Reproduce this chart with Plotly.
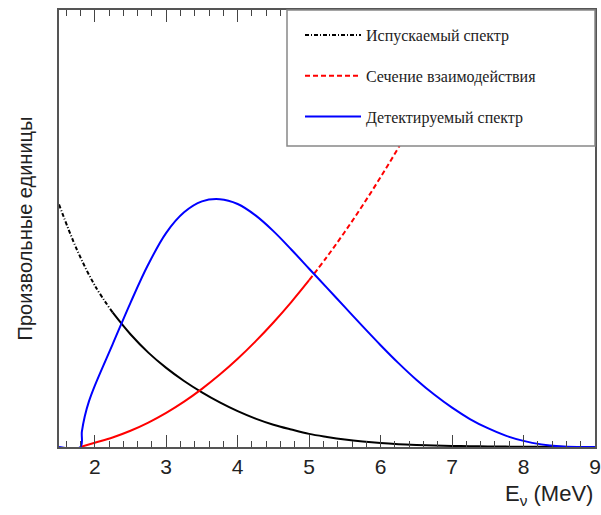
import plotly.graph_objects as go

# Emitted spectrum (arbitrary units)
emit_e = [1.5, 1.75, 2.0, 2.25, 2.5, 2.75, 3.0, 3.25, 3.5, 3.75, 4.0, 4.25, 4.5,
          4.75, 5.0, 5.25, 5.5, 5.75, 6.0, 6.25, 6.5, 6.75, 7.0, 7.25, 7.5,
          7.75, 8.0, 8.25, 8.5, 8.75, 9.0]
emitted = [0.555, 0.452, 0.370, 0.308, 0.258, 0.216, 0.181, 0.151, 0.125, 0.102,
           0.082, 0.065, 0.051, 0.040, 0.030, 0.023, 0.017, 0.0125, 0.009, 0.0065,
           0.0047, 0.0034, 0.0025, 0.0018, 0.0013, 0.0009, 0.0006, 0.0004,
           0.0003, 0.0002, 0.0001]

# Interaction cross section (arbitrary units)
cross_e = [1.8, 2.0, 2.25, 2.5, 2.75, 3.0, 3.25, 3.5, 3.75, 4.0, 4.25, 4.5, 4.75,
           5.0, 5.25, 5.5, 5.75, 6.0, 6.25, 6.5, 6.75, 7.0, 7.25, 7.5]
cross = [0.0, 0.0098, 0.0218, 0.0372, 0.0559, 0.0781, 0.1038, 0.1331, 0.1658,
         0.2019, 0.2417, 0.2849, 0.3316, 0.3817, 0.4354, 0.4926, 0.5533, 0.6175,
         0.6852, 0.7564, 0.8311, 0.9093, 0.991, 1.076]

# Detected spectrum (arbitrary units)
det_e = [1.5, 1.8, 1.82, 1.86, 1.92, 2.0, 2.25, 2.5, 2.75, 3.0, 3.25, 3.5, 3.75,
         4.0, 4.25, 4.5, 4.75, 5.0, 5.25, 5.5, 5.75, 6.0, 6.25, 6.5, 6.75, 7.0,
         7.25, 7.5, 7.75, 8.0, 8.25, 8.5, 8.75, 9.0]
detected = [0.0, 0.0, 0.035, 0.07, 0.105, 0.14, 0.235, 0.33, 0.418, 0.49, 0.537,
            0.562, 0.567, 0.556, 0.530, 0.494, 0.452, 0.408, 0.364, 0.320, 0.276,
            0.233, 0.192, 0.154, 0.120, 0.090, 0.064, 0.043, 0.026, 0.014, 0.006,
            0.0015, 0.0, 0.0]

x_ticks = [2, 3, 4, 5, 6, 7, 8, 9]

names = ["Испускаемый спектр", "Сечение взаимодействия", "Детектируемый спектр"]

fig = go.Figure()

# split points for visual line style (dashed segments as in the original)
kb = emit_e.index(2.25)
kr = cross_e.index(5.0)

fig.add_trace(go.Scatter(x=emit_e[:kb + 1], y=emitted[:kb + 1], mode="lines",
                         line=dict(color="black", width=2, dash="4px,2px,1px,2px", shape="spline"),
                         name=names[0], legendgroup="a"))
fig.add_trace(go.Scatter(x=emit_e[kb:], y=emitted[kb:], mode="lines",
                         line=dict(color="black", width=2, shape="spline"),
                         showlegend=False, legendgroup="a"))
fig.add_trace(go.Scatter(x=cross_e[:kr + 1], y=cross[:kr + 1], mode="lines",
                         line=dict(color="#ff0000", width=2, shape="spline"),
                         showlegend=False, legendgroup="b"))
fig.add_trace(go.Scatter(x=cross_e[kr:], y=cross[kr:], mode="lines",
                         line=dict(color="#ff0000", width=2, dash="5px,3px", shape="spline"),
                         name=names[1], legendgroup="b"))
fig.add_trace(go.Scatter(x=det_e, y=detected, mode="lines",
                         line=dict(color="#0000ff", width=2, shape="spline"),
                         name=names[2], legendgroup="c"))

L, R, T, B = 59, 6, 10, 68
W, H = 601, 515
pw, ph = W - L - R, H - T - B

fig.update_layout(
    width=W, height=H,
    margin=dict(l=L, r=R, t=T, b=B, autoexpand=False),
    paper_bgcolor="white", plot_bgcolor="white",
    showlegend=True,
    legend=dict(x=(300 - L) / pw, xanchor="left", y=1 - 8 / ph, yanchor="top",
                bgcolor="rgba(0,0,0,0)", borderwidth=0,
                font=dict(family="Liberation Serif", size=16, color="#222"),
                traceorder="grouped", tracegroupgap=17, itemwidth=56),
    xaxis=dict(range=[1.5, 9], tickvals=x_ticks, ticks="inside", ticklen=12,
               tickwidth=1.2, tickcolor="#444", showline=True, linecolor="#555",
               linewidth=2, mirror="ticks", showgrid=False, zeroline=False,
               automargin=False, ticklabeloverflow="allow",
               tickfont=dict(family="Liberation Sans", size=21, color="#222"),
               minor=dict(dtick=0.2, tick0=0, ticks="inside", ticklen=6,
                          tickwidth=1.2, tickcolor="#444", showgrid=False)),
    yaxis=dict(range=[0, 1], showticklabels=False, ticks="", showline=True,
               linecolor="#555", linewidth=2, mirror=True, showgrid=False,
               zeroline=False, automargin=False,
               title=dict(text="Произвольные единицы", standoff=19,
                          font=dict(family="Liberation Sans", size=20, color="#222"))),
    shapes=[dict(type="rect", xref="paper", yref="paper", layer="above",
                 x0=(287 - L) / pw, x1=1, y0=(H - B - 146) / ph, y1=1,
                 fillcolor="white", line=dict(color="#888", width=1.5))],
    annotations=[dict(text="E<sub>ν</sub> (MeV)", xref="paper", yref="paper",
                      x=1, xanchor="right", y=-(495 - (H - B)) / ph, yanchor="middle",
                      showarrow=False,
                      font=dict(family="Liberation Sans", size=22, color="#222"))],
)

fig.write_html("out.html", config={"displayModeBar": False},
               post_script="document.body.style.margin='0';")
